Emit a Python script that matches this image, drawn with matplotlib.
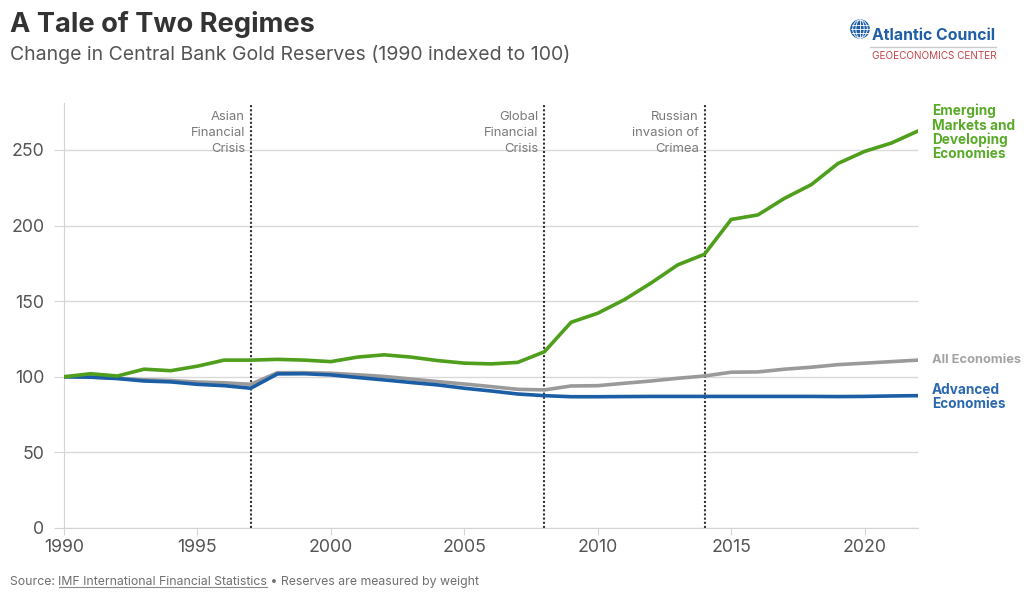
import matplotlib
matplotlib.use("Agg")
import matplotlib.pyplot as plt
from matplotlib.patches import Circle, Ellipse
from matplotlib.lines import Line2D

plt.rcParams['font.family'] = ['Inter', 'DejaVu Sans']

# Data (1990 indexed to 100)
years = list(range(1990, 2023))
emde = [100, 102, 100.5, 105, 104, 107, 111, 111, 111.5, 111, 110, 113, 114.5,
        113, 110.7, 109, 108.5, 109.5, 116.5, 136, 142, 151, 162, 174, 181,
        204, 207, 218, 227, 241, 249, 254.5, 262.5]
all_econ = [100, 99.8, 99, 98, 97.5, 96.5, 96, 95, 102.7, 102.7, 102.3, 101.3,
            100.2, 98.5, 96.8, 95.2, 93.5, 91.7, 91.3, 93.9, 94.1, 95.7, 97.2,
            99, 100.5, 103, 103.2, 105, 106.3, 108, 109, 110, 111]
advanced = [100, 99.7, 98.8, 97.2, 96.6, 95, 94.1, 92.4, 101.9, 102, 101.2,
            99.5, 97.9, 96.2, 94.6, 92.4, 90.6, 88.6, 87.5, 86.8, 86.8, 86.9,
            87, 87, 87, 87, 87, 87, 87, 86.9, 87, 87.3, 87.5]
events = [1997, 2008, 2014]
event_labels = ["Asian\nFinancial\nCrisis", "Global\nFinancial\nCrisis",
                "Russian\ninvasion of\nCrimea"]

green = "#4f9f1c"
gray = "#9a9a9a"
blue = "#1b5ea6"

fig = plt.figure(figsize=(10.24, 5.96), dpi=100)
ax = fig.add_axes([64 / 1024, 1 - 528 / 596, (918 - 64) / 1024, (528 - 103) / 596])

ax.set_xlim(1990, 2022)
ax.set_ylim(0, 281)

# grid
ax.set_yticks([0, 50, 100, 150, 200, 250])
ax.set_xticks(range(1990, 2021, 5))
ax.grid(axis='y', color='#d9d9d9', lw=1)
ax.set_axisbelow(True)
for s in ['top', 'right']:
    ax.spines[s].set_visible(False)
ax.spines['left'].set_color('#d4d4d4')
ax.spines['bottom'].set_color('#d4d4d4')
ax.tick_params(axis='y', length=7, color='#d4d4d4', labelsize=12.8,
               labelcolor='#555555', pad=7)
ax.tick_params(axis='x', length=5, color='#d4d4d4', labelsize=12.8,
               labelcolor='#555555', pad=3)

# event lines
for yr, lab in zip(events, event_labels):
    ax.axvline(yr, color='#333333', lw=1.5, ls=(0, (1, 1)), zorder=1)
    ax.text(yr - 0.22, 275.5, lab, ha='right', va='top', fontsize=9.4,
            color='#7a7a7a', linespacing=1.42)

ax.plot(years, all_econ, color=gray, lw=2.6, solid_capstyle='round', zorder=3)
ax.plot(years, advanced, color=blue, lw=2.6, solid_capstyle='round', zorder=4)
ax.plot(years, emde, color=green, lw=2.6, solid_capstyle='round', zorder=5)

# right-side labels
lbl_x = 932 / 1024
fig.text(lbl_x, 1 - 104 / 596, "Emerging\nMarkets and\nDeveloping\nEconomies",
         ha='left', va='top', fontsize=9.8, fontweight='bold', color='#5aaa2a',
         linespacing=1.0)
fig.text(lbl_x, 1 - 360 / 596, "All Economies", ha='left', va='center',
         fontsize=9.3, fontweight='bold', color='#a3a3a3')
fig.text(lbl_x, 1 - 397 / 596, "Advanced\nEconomies", ha='left', va='center',
         fontsize=9.8, fontweight='bold', color='#2b69ae', linespacing=1.02)

# titles
fig.text(10 / 1024, 1 - 24 / 596, "A Tale of Two Regimes", ha='left',
         va='center', fontsize=19.6, fontweight='bold', color='#333333')
fig.text(10 / 1024, 1 - 55 / 596,
         "Change in Central Bank Gold Reserves (1990 indexed to 100)",
         ha='left', va='center', fontsize=14, color='#555555')

# logo
gax = fig.add_axes([850 / 1024, 1 - 39 / 596, 20 / 1024, 20 / 596])
gax.set_xlim(-1.1, 1.1)
gax.set_ylim(-1.1, 1.1)
gax.set_aspect('equal')
gax.axis('off')
gax.add_patch(Circle((0, 0), 1, color='#1f5fa6'))
for w in [0.9, 1.6]:
    gax.add_patch(Ellipse((0, 0), w, 2, fill=False, ec='white', lw=0.6))
gax.plot([0, 0], [-1, 1], color='white', lw=0.6)
for yy in [-0.45, 0, 0.45]:
    half = (1 - yy ** 2) ** 0.5
    gax.plot([-half, half], [yy, yy], color='white', lw=0.6)

fig.text(872 / 1024, 1 - 35 / 596, "Atlantic Council", ha='left', va='center',
         fontsize=11.4, fontweight='bold', color='#1f5fa6')
fig.add_artist(Line2D([870 / 1024, 996 / 1024], [1 - 47 / 596, 1 - 47 / 596],
                      color='#cccccc', lw=1))
fig.text(872 / 1024, 1 - 56 / 596, "GEOECONOMICS CENTER", ha='left',
         va='center', fontsize=7.2, color='#c4474b')

# source line
src_y = 1 - 582 / 596
t1 = fig.text(10 / 1024, src_y, "Source: ", ha='left', va='center',
              fontsize=8.85, color='#707070')
fig.canvas.draw()
r = fig.canvas.get_renderer()
b1 = t1.get_window_extent(r)
x2 = b1.x1 / 1024
t2 = fig.text(x2, src_y, "IMF International Financial Statistics", ha='left',
              va='center', fontsize=8.85, color='#707070')
b2 = t2.get_window_extent(r)
fig.add_artist(Line2D([b2.x0 / 1024, b2.x1 / 1024],
                      [b2.y0 / 596 + 1 / 596, b2.y0 / 596 + 1 / 596],
                      color='#8a8a8a', lw=0.8))
fig.text(b2.x1 / 1024, src_y, " \u2022 Reserves are measured by weight",
         ha='left', va='center', fontsize=8.85, color='#707070')

fig.savefig("out.png", dpi=100)
